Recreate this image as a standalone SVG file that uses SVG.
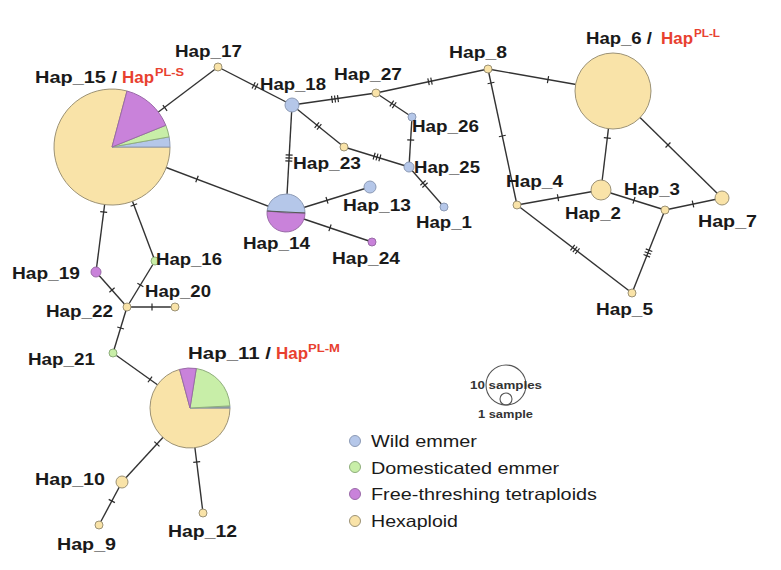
<svg xmlns="http://www.w3.org/2000/svg" xmlns:xlink="http://www.w3.org/1999/xlink" width="781" height="570" viewBox="0 0 781 570">
<style>
  .bg{fill:#ffffff}
  .e{stroke:#333333;stroke-width:1.4;fill:none}
  .tk{stroke:#2a2a2a;stroke-width:1.2}
  .hx{fill:#F9E3A8;stroke:#9c9275;stroke-width:1}
  .we{fill:#B5C7E9;stroke:#8c9ab5;stroke-width:1}
  .de{fill:#C8EEA8;stroke:#8fae7c;stroke-width:1}
  .ft{fill:#C982DA;stroke:#9a6aa8;stroke-width:1}
  .dv{stroke:#555a55;stroke-width:1.2;fill:none}
  .lb{font-family:"Liberation Sans",Arial,sans-serif;font-weight:bold;font-size:16px;fill:#1a1a1a}
  .red{fill:#E8412F}
  .sup{font-family:"Liberation Sans",Arial,sans-serif;font-weight:bold;font-size:10px;fill:#E8412F}
  .lg{font-family:"Liberation Sans",Arial,sans-serif;font-size:16.5px;fill:#1a1a1a}
  .sm{font-family:"Liberation Sans",Arial,sans-serif;font-weight:bold;font-size:10px;fill:#333}
  .sc{fill:none;stroke:#555;stroke-width:1.1}
</style>
<defs>
  <g id="t1" class="tk"><line x1="0" y1="-3.5" x2="0" y2="3.5"/></g>
  <g id="t2" class="tk"><line x1="-1.5" y1="-3.5" x2="-1.5" y2="3.5"/><line x1="1.5" y1="-3.5" x2="1.5" y2="3.5"/></g>
  <g id="t3" class="tk"><line x1="-3" y1="-3.5" x2="-3" y2="3.5"/><line x1="0" y1="-3.5" x2="0" y2="3.5"/><line x1="3" y1="-3.5" x2="3" y2="3.5"/></g>
</defs>
<rect class="bg" x="0" y="0" width="781" height="570"/>

<g id="connectors">
  <line class="e" x1="112" y1="147" x2="218" y2="67"/>
  <use xlink:href="#t1" href="#t1" transform="translate(165,108) rotate(-37)"/>
  <line class="e" x1="218" y1="67" x2="292" y2="105"/>
  <use xlink:href="#t2" href="#t2" transform="translate(255,86) rotate(27)"/>
  <line class="e" x1="112" y1="147" x2="286" y2="213"/>
  <use xlink:href="#t1" href="#t1" transform="translate(197,179) rotate(20.8)"/>
  <line class="e" x1="292" y1="105" x2="286" y2="213"/>
  <use xlink:href="#t3" href="#t3" transform="translate(289,158) rotate(93)"/>
  <line class="e" x1="292" y1="105" x2="376" y2="93"/>
  <use xlink:href="#t3" href="#t3" transform="translate(335,99) rotate(-8)"/>
  <line class="e" x1="292" y1="105" x2="344" y2="147"/>
  <use xlink:href="#t2" href="#t2" transform="translate(318,126) rotate(39)"/>
  <line class="e" x1="376" y1="93" x2="488" y2="69"/>
  <use xlink:href="#t2" href="#t2" transform="translate(430,81.4) rotate(-12)"/>
  <line class="e" x1="376" y1="93" x2="412" y2="117"/>
  <use xlink:href="#t2" href="#t2" transform="translate(393,104.3) rotate(33.7)"/>
  <line class="e" x1="412" y1="117" x2="409" y2="167"/>
  <use xlink:href="#t1" href="#t1" transform="translate(410.7,140) rotate(93.4)"/>
  <line class="e" x1="344" y1="147" x2="409" y2="167"/>
  <use xlink:href="#t3" href="#t3" transform="translate(377,157) rotate(17)"/>
  <line class="e" x1="409" y1="167" x2="444" y2="207"/>
  <use xlink:href="#t2" href="#t2" transform="translate(424,184) rotate(48.8)"/>
  <line class="e" x1="286" y1="213" x2="370" y2="187"/>
  <use xlink:href="#t1" href="#t1" transform="translate(327,200.3) rotate(-17)"/>
  <line class="e" x1="286" y1="213" x2="372" y2="242"/>
  <use xlink:href="#t1" href="#t1" transform="translate(330,227.8) rotate(18.6)"/>
  <line class="e" x1="488" y1="69" x2="613" y2="91"/>
  <use xlink:href="#t1" href="#t1" transform="translate(548,79.6) rotate(10)"/>
  <line class="e" x1="488" y1="69" x2="517" y2="205"/>
  <use xlink:href="#t1" href="#t1" transform="translate(491,83) rotate(78)"/>
  <use xlink:href="#t1" href="#t1" transform="translate(502.3,136) rotate(78)"/>
  <line class="e" x1="613" y1="91" x2="601" y2="190"/>
  <use xlink:href="#t1" href="#t1" transform="translate(607.3,138) rotate(97)"/>
  <line class="e" x1="613" y1="91" x2="722" y2="198"/>
  <use xlink:href="#t1" href="#t1" transform="translate(668,145) rotate(44.5)"/>
  <line class="e" x1="517" y1="205" x2="601" y2="190"/>
  <use xlink:href="#t1" href="#t1" transform="translate(558,197.7) rotate(-10)"/>
  <line class="e" x1="601" y1="190" x2="665" y2="210"/>
  <use xlink:href="#t1" href="#t1" transform="translate(634,200.3) rotate(17)"/>
  <line class="e" x1="665" y1="210" x2="722" y2="198"/>
  <use xlink:href="#t1" href="#t1" transform="translate(693,204) rotate(-12)"/>
  <line class="e" x1="517" y1="205" x2="632" y2="293"/>
  <use xlink:href="#t3" href="#t3" transform="translate(575,249.4) rotate(37.4)"/>
  <line class="e" x1="665" y1="210" x2="632" y2="293"/>
  <use xlink:href="#t3" href="#t3" transform="translate(647.9,253) rotate(111.7)"/>
  <line class="e" x1="112" y1="147" x2="96" y2="272"/>
  <use xlink:href="#t1" href="#t1" transform="translate(103.7,212) rotate(97.3)"/>
  <line class="e" x1="112" y1="147" x2="155" y2="261"/>
  <use xlink:href="#t1" href="#t1" transform="translate(133.9,205) rotate(69.3)"/>
  <line class="e" x1="96" y1="272" x2="127" y2="307"/>
  <use xlink:href="#t1" href="#t1" transform="translate(112,290) rotate(48.5)"/>
  <line class="e" x1="155" y1="261" x2="127" y2="307"/>
  <use xlink:href="#t1" href="#t1" transform="translate(140.4,285) rotate(121)"/>
  <line class="e" x1="127" y1="307" x2="175" y2="307"/>
  <use xlink:href="#t1" href="#t1" transform="translate(152,307) rotate(0)"/>
  <line class="e" x1="127" y1="307" x2="113" y2="353"/>
  <use xlink:href="#t1" href="#t1" transform="translate(120.6,328) rotate(107)"/>
  <line class="e" x1="113" y1="353" x2="190" y2="408"/>
  <use xlink:href="#t1" href="#t1" transform="translate(150,379.4) rotate(35.5)"/>
  <line class="e" x1="190" y1="408" x2="122" y2="482"/>
  <use xlink:href="#t1" href="#t1" transform="translate(156.9,444) rotate(132.6)"/>
  <line class="e" x1="122" y1="482" x2="99" y2="525"/>
  <use xlink:href="#t1" href="#t1" transform="translate(111.8,501) rotate(118)"/>
  <line class="e" x1="190" y1="408" x2="203" y2="513"/>
  <use xlink:href="#t1" href="#t1" transform="translate(196.7,462) rotate(83)"/>
</g>

<g id="hap15">
  <path class="hx" d="M112 147 L127 91 A58 58 0 1 0 170 147 Z"/>
  <path class="we" d="M112 147 L170 147 A58 58 0 0 0 169.1 136.9 Z"/>
  <path class="de" d="M112 147 L169.1 136.9 A58 58 0 0 0 165.8 125.3 Z"/>
  <path class="ft" d="M112 147 L165.8 125.3 A58 58 0 0 0 127 91 Z"/>
  <text class="lb" x="35" y="83" textLength="82" lengthAdjust="spacingAndGlyphs">Hap_15 /</text>
  <text class="lb red" x="122" y="83" textLength="32" lengthAdjust="spacingAndGlyphs">Hap</text>
  <text class="sup" x="155" y="76" textLength="29" lengthAdjust="spacingAndGlyphs">PL-S</text>
</g>
<g id="hap17"><circle class="hx" cx="218" cy="67" r="4"/><text class="lb" x="175" y="57" textLength="67" lengthAdjust="spacingAndGlyphs">Hap_17</text></g>
<g id="hap18"><circle class="we" cx="292" cy="105" r="7"/><text class="lb" x="260" y="90" textLength="66" lengthAdjust="spacingAndGlyphs">Hap_18</text></g>
<g id="hap27"><circle class="hx" cx="376" cy="93" r="4"/><text class="lb" x="334" y="80" textLength="68" lengthAdjust="spacingAndGlyphs">Hap_27</text></g>
<g id="hap8"><circle class="hx" cx="488" cy="69" r="4"/><text class="lb" x="449" y="58" textLength="58" lengthAdjust="spacingAndGlyphs">Hap_8</text></g>
<g id="hap26"><circle class="we" cx="412" cy="117" r="4"/><text class="lb" x="412" y="132" textLength="67" lengthAdjust="spacingAndGlyphs">Hap_26</text></g>
<g id="hap23"><circle class="hx" cx="344" cy="147" r="4"/><text class="lb" x="293" y="169" textLength="68" lengthAdjust="spacingAndGlyphs">Hap_23</text></g>
<g id="hap25"><circle class="we" cx="409" cy="167" r="5"/><text class="lb" x="414" y="173" textLength="66" lengthAdjust="spacingAndGlyphs">Hap_25</text></g>
<g id="hap1"><circle class="we" cx="444" cy="207" r="4"/><text class="lb" x="416" y="228" textLength="56" lengthAdjust="spacingAndGlyphs">Hap_1</text></g>
<g id="hap13"><circle class="we" cx="370" cy="187" r="6"/><text class="lb" x="343" y="211" textLength="68" lengthAdjust="spacingAndGlyphs">Hap_13</text></g>
<g id="hap14">
  <path class="we" d="M286 213 L305 213 A19 19 0 0 0 267.1 211 Z"/>
  <path class="ft" d="M286 213 L267.1 211 A19 19 0 1 0 305 213 Z"/>
  <line class="dv" x1="267.1" y1="211" x2="305" y2="213"/>
  <text class="lb" x="243" y="249" textLength="67" lengthAdjust="spacingAndGlyphs">Hap_14</text>
</g>
<g id="hap24"><circle class="ft" cx="372" cy="242" r="4"/><text class="lb" x="332" y="264" textLength="68" lengthAdjust="spacingAndGlyphs">Hap_24</text></g>
<g id="hap6">
  <circle class="hx" cx="613" cy="91" r="38"/>
  <text class="lb" x="586" y="44" textLength="66" lengthAdjust="spacingAndGlyphs">Hap_6 /</text>
  <text class="lb red" x="661" y="44" textLength="32" lengthAdjust="spacingAndGlyphs">Hap</text>
  <text class="sup" x="694" y="37" textLength="26" lengthAdjust="spacingAndGlyphs">PL-L</text>
</g>
<g id="hap2"><circle class="hx" cx="601" cy="190" r="10"/><text class="lb" x="565" y="219" textLength="56" lengthAdjust="spacingAndGlyphs">Hap_2</text></g>
<g id="hap3"><circle class="hx" cx="665" cy="210" r="4"/><text class="lb" x="624" y="195" textLength="56" lengthAdjust="spacingAndGlyphs">Hap_3</text></g>
<g id="hap7"><circle class="hx" cx="722" cy="198" r="7"/><text class="lb" x="698" y="227" textLength="59" lengthAdjust="spacingAndGlyphs">Hap_7</text></g>
<g id="hap4"><circle class="hx" cx="517" cy="205" r="4"/><text class="lb" x="506" y="187" textLength="57" lengthAdjust="spacingAndGlyphs">Hap_4</text></g>
<g id="hap5"><circle class="hx" cx="632" cy="293" r="4"/><text class="lb" x="596" y="315" textLength="57" lengthAdjust="spacingAndGlyphs">Hap_5</text></g>
<g id="hap19"><circle class="ft" cx="96" cy="272" r="5"/><text class="lb" x="12" y="279" textLength="68" lengthAdjust="spacingAndGlyphs">Hap_19</text></g>
<g id="hap16"><circle class="de" cx="155" cy="261" r="4"/><text class="lb" x="156" y="265" textLength="66" lengthAdjust="spacingAndGlyphs">Hap_16</text></g>
<g id="hap22"><circle class="hx" cx="127" cy="307" r="4"/><text class="lb" x="46" y="317" textLength="67" lengthAdjust="spacingAndGlyphs">Hap_22</text></g>
<g id="hap20"><circle class="hx" cx="175" cy="307" r="4"/><text class="lb" x="145" y="297" textLength="66" lengthAdjust="spacingAndGlyphs">Hap_20</text></g>
<g id="hap21"><circle class="de" cx="113" cy="353" r="4"/><text class="lb" x="28" y="365" textLength="67" lengthAdjust="spacingAndGlyphs">Hap_21</text></g>
<g id="hap11">
  <path class="hx" d="M190 408 L179.6 369.4 A40 40 0 1 0 230 408 Z"/>
  <path class="we" d="M190 408 L230 408 A40 40 0 0 0 229.9 405.9 Z" style="fill:#8a9a8a"/>
  <path class="de" d="M190 408 L229.9 405.9 A40 40 0 0 0 196.3 368.5 Z"/>
  <path class="ft" d="M190 408 L196.3 368.5 A40 40 0 0 0 179.6 369.4 Z"/>
  <text class="lb" x="188" y="359" textLength="83" lengthAdjust="spacingAndGlyphs">Hap_11 /</text>
  <text class="lb red" x="276" y="359" textLength="32" lengthAdjust="spacingAndGlyphs">Hap</text>
  <text class="sup" x="308" y="352" textLength="32" lengthAdjust="spacingAndGlyphs">PL-M</text>
</g>
<g id="hap10"><circle class="hx" cx="122" cy="482" r="6"/><text class="lb" x="35" y="485" textLength="70" lengthAdjust="spacingAndGlyphs">Hap_10</text></g>
<g id="hap9"><circle class="hx" cx="99" cy="525" r="4"/><text class="lb" x="57" y="550" textLength="59" lengthAdjust="spacingAndGlyphs">Hap_9</text></g>
<g id="hap12"><circle class="hx" cx="203" cy="513" r="4"/><text class="lb" x="168" y="537" textLength="69" lengthAdjust="spacingAndGlyphs">Hap_12</text></g>

<g id="size-legend">
  <circle class="sc" cx="506" cy="385" r="20"/>
  <circle class="sc" cx="506" cy="399" r="6"/>
  <text class="sm" x="470" y="389" textLength="72" lengthAdjust="spacingAndGlyphs">10 samples</text>
  <text class="sm" x="478" y="418" textLength="55" lengthAdjust="spacingAndGlyphs">1 sample</text>
</g>
<g id="legend">
  <circle class="we" cx="355" cy="441" r="5.5"/>
  <text class="lg" x="371" y="447" textLength="106" lengthAdjust="spacingAndGlyphs">Wild emmer</text>
  <circle class="de" cx="355" cy="467" r="5.5"/>
  <text class="lg" x="371" y="474" textLength="188" lengthAdjust="spacingAndGlyphs">Domesticated emmer</text>
  <circle class="ft" cx="355" cy="494" r="5.5"/>
  <text class="lg" x="371" y="500" textLength="226" lengthAdjust="spacingAndGlyphs">Free-threshing tetraploids</text>
  <circle class="hx" cx="355" cy="521" r="5.5"/>
  <text class="lg" x="371" y="527" textLength="87" lengthAdjust="spacingAndGlyphs">Hexaploid</text>
</g>
</svg>
